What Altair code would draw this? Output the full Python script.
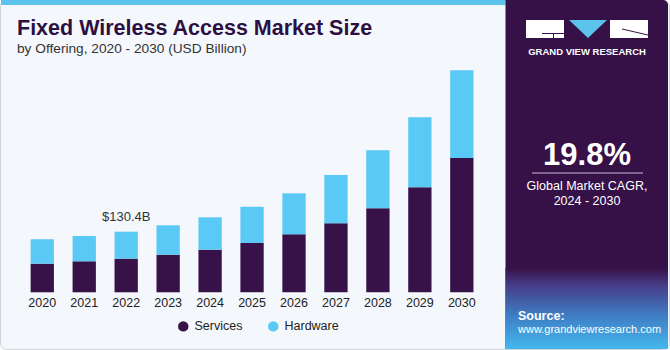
import altair as alt
import pandas as pd
import urllib.parse

years = ["2020", "2021", "2022", "2023", "2024", "2025", "2026", "2027", "2028", "2029", "2030"]
services = [61.5, 66.7, 72.3, 80.9, 91.7, 106.1, 124.8, 148.5, 180.8, 226.0, 289.0]
totals = [114.1, 121.2, 130.4, 144.2, 161.4, 184.2, 213.0, 252.4, 305.6, 376.6, 477.7]
hardware = [round(t - s, 1) for t, s in zip(totals, services)]
offerings = ["Services", "Hardware"]
colors = ["#371249", "#5bc9f5"]
label_year = "2022"
label_text = "$130.4B"

rows = []
for y, s, h in zip(years, services, hardware):
    rows.append({"year": y, "offering": "Services", "value": s, "ord": 0})
    rows.append({"year": y, "offering": "Hardware", "value": h, "ord": 1})
df = pd.DataFrame(rows)
tot_df = pd.DataFrame({"year": years, "total": totals})
lab_df = pd.DataFrame({"year": [label_year], "total": [totals[years.index(label_year)]], "text": [label_text]})
one = pd.DataFrame({"a": [0]})

W, H = 670, 350
xscale = alt.Scale(domain=years, range=[21.3, 482.8], paddingInner=0.445, paddingOuter=0.2225)
yscale = alt.Scale(domain=[0, 500], range=[292.3, 59.9])

FONT = "Liberation Sans"

def deco():
    return alt.Chart(one)

# background & border
bg = deco().mark_rect(color="#f4f8fc", stroke="#cfd3d8", strokeWidth=1, cornerRadius=6).encode(
    x=alt.value(0.5), x2=alt.value(669.5), y=alt.value(0.5), y2=alt.value(349.5))
stripe = deco().mark_rect(color="#5cc3ec").encode(
    x=alt.value(1), x2=alt.value(505.5), y=alt.value(0), y2=alt.value(5))
panel = deco().mark_rect(color="#361147", cornerRadiusTopRight=5).encode(
    x=alt.value(505.5), x2=alt.value(668), y=alt.value(0), y2=alt.value(349))
grad = deco().mark_rect(
    color=alt.Gradient(
        gradient="linear",
        stops=[alt.GradientStop(color="#361147", offset=0),
               alt.GradientStop(color="#463a86", offset=0.2),
               alt.GradientStop(color="#3f7fc6", offset=0.6),
               alt.GradientStop(color="#45b8ee", offset=1)],
        x1=0, x2=0, y1=0, y2=1)
).encode(x=alt.value(505.5), x2=alt.value(668), y=alt.value(268), y2=alt.value(349))

# logo
tri_svg = ('<svg xmlns="http://www.w3.org/2000/svg" width="38" height="18" viewBox="0 0 38 18">'
           '<polygon points="0,0 38,0 19,18" fill="#5cc3ec"/></svg>')
tri_url = "data:image/svg+xml;charset=utf-8," + urllib.parse.quote(tri_svg)
logo_l = deco().mark_rect(color="white").encode(x=alt.value(526), x2=alt.value(564), y=alt.value(20), y2=alt.value(38))
logo_l2 = deco().mark_rect(color="#361147").encode(x=alt.value(542), x2=alt.value(564), y=alt.value(33), y2=alt.value(34))
logo_l3 = deco().mark_rect(color="#361147").encode(x=alt.value(553), x2=alt.value(554), y=alt.value(33), y2=alt.value(38))
logo_tri = deco().mark_image(url=tri_url, width=38, height=18, align="left", baseline="top", aspect=False).encode(
    x=alt.value(569), y=alt.value(20))
logo_r = deco().mark_rect(color="white").encode(x=alt.value(610), x2=alt.value(648), y=alt.value(20), y2=alt.value(38))
logo_r2 = deco().mark_rule(color="#361147", strokeWidth=1).encode(x=alt.value(622), x2=alt.value(648), y=alt.value(29), y2=alt.value(35))
logo_txt = deco().mark_text(text="GRAND VIEW RESEARCH", color="white", font=FONT, fontSize=9.5, fontWeight="bold",
                            align="center", baseline="middle").encode(x=alt.value(587), y=alt.value(52))

cagr = deco().mark_text(text="19.8%", color="white", font=FONT, fontSize=31, fontWeight="bold",
                        align="center", baseline="alphabetic").encode(x=alt.value(587), y=alt.value(165))
cagr_line = deco().mark_rule(color="#c9bcd6", strokeWidth=1).encode(x=alt.value(532), x2=alt.value(643), y=alt.value(173), y2=alt.value(173))
cagr_t1 = deco().mark_text(text="Global Market CAGR,", color="white", font=FONT, fontSize=12.5,
                           align="center", baseline="alphabetic").encode(x=alt.value(587), y=alt.value(190))
cagr_t2 = deco().mark_text(text="2024 - 2030", color="white", font=FONT, fontSize=12.5,
                           align="center", baseline="alphabetic").encode(x=alt.value(587), y=alt.value(205))
src1 = deco().mark_text(text="Source:", color="white", font=FONT, fontSize=12.5, fontWeight="bold",
                        align="left", baseline="alphabetic").encode(x=alt.value(518), y=alt.value(320))
src2 = deco().mark_text(text="www.grandviewresearch.com", color="white", font=FONT, fontSize=11,
                        align="left", baseline="alphabetic").encode(x=alt.value(518), y=alt.value(333))

title = deco().mark_text(text="Fixed Wireless Access Market Size", color="#2e0f42", font=FONT, fontSize=21.5,
                         fontWeight="bold", align="left", baseline="alphabetic").encode(x=alt.value(17), y=alt.value(35))
subtitle = deco().mark_text(text="by Offering, 2020 - 2030 (USD Billion)", color="#333333", font=FONT, fontSize=13.7,
                            align="left", baseline="alphabetic").encode(x=alt.value(17), y=alt.value(53))

bars = alt.Chart(df).mark_bar(size=23.3).encode(
    x=alt.X("year:N", scale=xscale, axis=None, sort=years),
    y=alt.Y("value:Q", stack="zero", scale=yscale, axis=None),
    color=alt.Color("offering:N", scale=alt.Scale(domain=offerings, range=colors),
                    legend=alt.Legend(title=None, orient="none", legendX=177, legendY=320, direction="horizontal",
                                      symbolType="circle", symbolSize=110, labelFont=FONT, labelFontSize=12.5,
                                      labelColor="#222222", columnPadding=24, symbolStrokeWidth=0, labelOffset=5)),
    order=alt.Order("ord:Q", sort="ascending"),
)

year_labels = alt.Chart(tot_df).mark_text(font=FONT, fontSize=12.5, color="#222222", baseline="middle").encode(
    x=alt.X("year:N", scale=xscale, sort=years), y=alt.value(302.5), text="year:N")

val_label = alt.Chart(lab_df).mark_text(font=FONT, fontSize=13, color="#333333", baseline="alphabetic", dy=-11).encode(
    x=alt.X("year:N", scale=xscale, sort=years), y=alt.Y("total:Q", scale=yscale), text="text:N")

chart = alt.layer(
    bg, stripe, panel, grad, logo_l, logo_l2, logo_l3, logo_tri, logo_r, logo_r2, logo_txt,
    cagr, cagr_line, cagr_t1, cagr_t2, src1, src2, title, subtitle,
    bars, year_labels, val_label
).properties(
    width=W, height=H, padding=0, autosize=alt.AutoSizeParams(type="none"), background="white"
).configure_view(strokeWidth=0).configure_legend(padding=0)

chart.save("out.html", embed_options={"renderer": "svg", "actions": False})
